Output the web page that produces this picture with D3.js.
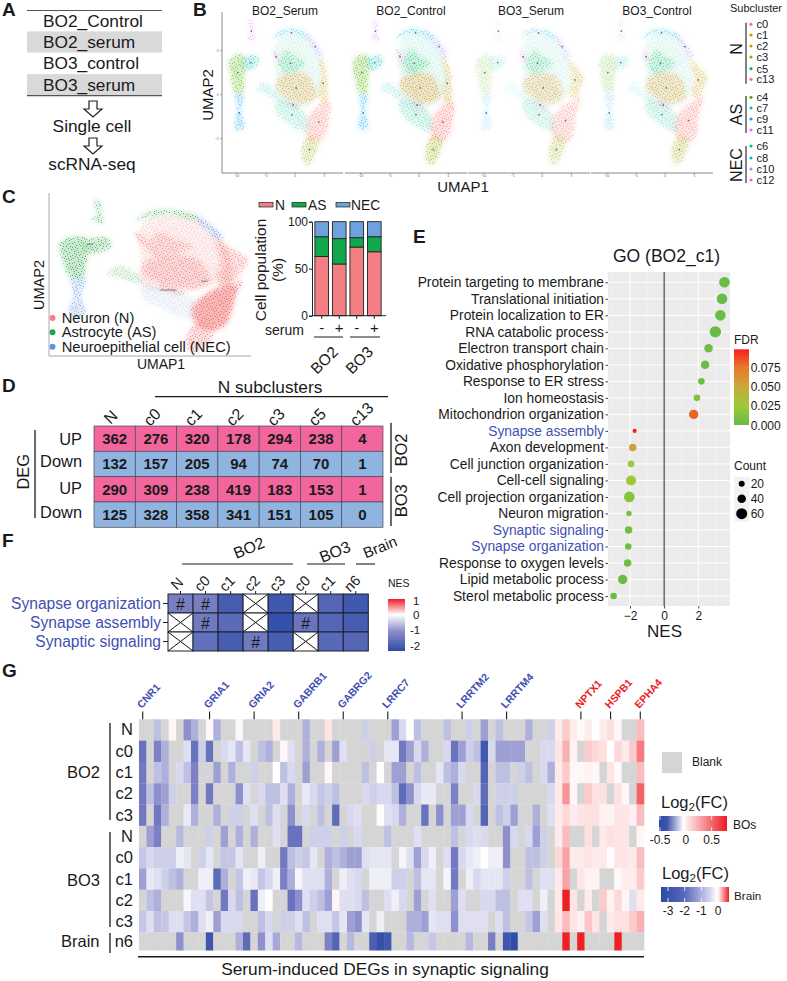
<!DOCTYPE html>
<html><head><meta charset="utf-8">
<script src="https://cdn.jsdelivr.net/npm/d3@7"></script>
<style>html,body{margin:0;padding:0;background:#fff}svg{display:block}text{font-family:"Liberation Sans",Arial,sans-serif;fill:#1a1a1a}</style>
</head><body><svg id="c" width="787" height="981"></svg>
<script>
const _ = null;
/* ---------- A ---------- */
const sampleNames = ["BO2_Control","BO2_serum","BO3_control","BO3_serum"];
const flowSteps = ["Single cell","scRNA-seq"];
/* ---------- B / C : UMAP cluster outlines, in UMAP units ---------- */
const polyInterior=[[-3.5,4.6],[-2.7,6.3],[-.1,6.9],[2.4,6.3],[4.4,3.8],[4.1,-.3],[1.3,-1.4],[-3.2,-.7],[-3.2,2]];
const polyC4=[[-11.2,3.7],[-10.3,4.4],[-8.6,4.4],[-8.4,3.1],[-8.6,1.6],[-8.9,.1],[-10.1,.1],[-10.9,2]];
const polyC7=[[-8.6,4],[-6.6,4.4],[-6.1,3.5],[-7.8,2.7],[-8.6,2.9]];
const polyBridge=[[-6.6,.45],[-5.2,1.4],[-3,-.3],[-3.8,-.5],[-5.2,.1]];
const polyC9=[[-10.1,-.1],[-8.6,-.1],[-9.1,-1.8],[-8.6,-3.9],[-10.1,-4.1],[-10.3,-3.3],[-9.8,-1.8]];
const polyC8=[[-3.8,6.3],[-2.4,7.2],[-.1,7.4],[2.4,6.7],[1.9,6.4],[-.1,7],[-2.1,6.8]];
const polyC10=[[2.4,6.7],[3.9,5.5],[4.9,4.2],[4.1,4.2],[3.3,5.2],[2,6.4]];
const polyC2=[[4.1,4.2],[5,3.5],[5.7,.45],[5.3,-1.2],[4.1,-.3],[4.5,2]];
const polyC2b=[[4.4,4],[5.6,3.3],[7.3,1.95],[6.7,.8],[5.6,-.5],[4.6,-.1],[5,1.8]];
const polyC1=[[-3,1.6],[-1.25,2.3],[2.2,2.15],[3.6,-.3],[1.6,-1.1],[-.7,-.7],[-3,.45]];
const polyC5=[[-2.7,3.5],[-1.25,5],[.2,4.2],[1.9,3.5],[-.1,2.5],[-1.8,2.3]];
const polyC6=[[-3.2,-.7],[-.1,-1.05],[2.15,-2.6],[1.9,-4.3],[-1.25,-3.3],[-3,-2.2]];
const polyC0=[[2.15,-3.1],[4.4,-1.05],[6,-.9],[5.9,-2.6],[4.7,-5.2],[2.4,-5.2]];
const polyC0b=[[1.6,-3.3],[3.2,-1.6],[5,-.8],[6.7,-.3],[5.85,-2.2],[5,-5.2],[2.4,-5.2]];
const polyC3=[[1.3,-6],[2.4,-4.8],[4,-5.2],[3.6,-6.7],[2.15,-8.1],[1.3,-7.5]];
const polyC12=[[-3.9,5],[-3.1,4.6],[-2.5,3.4],[-3.2,3.85]];
const polyC13=[[-1.25,-.7],[1,-1.6],[.75,-1.8],[-1.5,-.9]];
const polyC11=[[-7.8,8.4],[-7.2,8.4],[-7.1,6.9],[-6.8,6],[-8.1,6.4],[-7.5,6.9]];
const clusterIds=["c5i","c6","c1","c5","c2","c0","c3","c4","c7","br","c9","c8","c10","c12","c13","c11"];
const clusterCol={c0:"#F8766D",c1:"#E38900",c2:"#C49A00",c3:"#99A800",c4:"#53B400",c5:"#00BC56",c5i:"#00C094",c6:"#00C094",c7:"#00BFC4",br:"#00BFC4",c8:"#00B6EB",c9:"#06A4FF",c10:"#A58AFF",c11:"#DF70F8",c12:"#FB61D7",c13:"#FF66A8"};
const clusterDensity=[.3,.6,.9,.75,.85,1,.95,1,.9,.45,.85,1,.9,1,.8,.8];
const panelTitles=["BO2_Serum","BO2_Control","BO3_Serum","BO3_Control"];
const panelOffsets=[0,124,247,370];
const panelAstro=[1,1,.4,.5];
const panelNeuron=[.85,1,.75,.85];
const umapXTicks=[-10,-5,0,5], umapYTicks=[5,0,-5];
/* fixed speckle positions inside one 20 x 20 tile */
const speckleX=[1,5,9,14,18,3,7,12,16,0,6,10,15,19,2,8,13,17,4,11,1,6,14,18,3,9,16,0,7,12,19,5,10,15,2,17,8,13,4,11,18,6,1,14,9,3,16,12];
const speckleY=[0,1,0,2,1,3,4,3,5,5,6,6,7,4,8,8,9,8,10,9,11,11,11,12,13,12,14,14,14,15,15,16,16,16,17,17,18,18,18,19,19,19,2,13,3,6,10,7];
/* legends of B */
const legN=["c0","c1","c2","c3","c5","c13"], legAS=["c4","c7","c9","c11"], legNEC=["c6","c8","c10","c12"];
const legCols={c0:"#F8766D",c1:"#E38900",c2:"#C49A00",c3:"#99A800",c4:"#53B400",c5:"#00BC56",c6:"#00C094",c7:"#00BFC4",c8:"#00B6EB",c9:"#06A4FF",c10:"#A58AFF",c11:"#DF70F8",c12:"#FB61D7",c13:"#FF66A8"};
/* ---------- C bars ---------- */
const barGroups=["BO2-","BO2+","BO3-","BO3+"];
const barN=[63,55,73,68], barAS=[21,27,10,16], barNEC=[16,18,17,16];
/* ---------- D ---------- */
const degCols=["N","c0","c1","c2","c3","c5","c13"];
const deg1=[362,276,320,178,294,238,4], deg2=[132,157,205,94,74,70,1], deg3=[290,309,238,419,183,153,1], deg4=[125,328,358,341,151,105,0];
const degLabels=["UP","Down","UP","Down"];
/* ---------- F ---------- */
const nesCols=["N","c0","c1","c2","c3","c0","c1","n6"];
const nesTerms=["Synapse organization","Synapse assembly","Synaptic signaling"];
const nesOrg=[-1.3,-1.3,-2,_,-2.1,_,-1.8,-2.1];
const nesAsm=[_,-1.4,-1.7,_,-2.25,-1.5,-1.8,-2];
const nesSig=[_,-1.6,-2,-1.4,-2,_,-1.75,-1.8];
const hashOrg=[1,1,0,0,0,0,0,0], hashAsm=[0,1,0,0,0,1,0,0], hashSig=[0,0,0,1,0,0,0,0];
/* ---------- E ---------- */
const goTerms=["Protein targeting to membrane","Translational initiation","Protein localization to ER","RNA catabolic process","Electron transport chain","Oxidative phosphorylation","Response to ER stress","Ion homeostasis","Mitochondrion organization","Synapse assembly","Axon development","Cell junction organization","Cell-cell signaling","Cell projection organization","Neuron migration","Synaptic signaling","Synapse organization","Response to oxygen levels","Lipid metabolic process","Sterol metabolic process"];
const goNES=[3.53,3.39,3.29,3.0,2.6,2.4,2.18,1.92,1.73,-1.73,-1.84,-1.94,-1.94,-2.04,-2.06,-2.08,-2.1,-2.14,-2.43,-2.96];
const goCount=[57,57,57,63,40,40,25,25,47,5,32,25,52,57,15,32,25,32,47,25];
const goFDR=[.002,.002,.002,.002,.003,.003,.005,.012,.08,.098,.052,.026,.024,.015,.008,.005,.005,.004,.002,.002];
const goBlue=["Synapse assembly","Synaptic signaling","Synapse organization"];
/* ---------- G ---------- */
const heatRowNames=["N","c0","c1","c2","c3","N ","c0 ","c1 ","c2 ","c3 ","n6"];
const geneNames=["CNR1","GRIA1","GRIA2","GABRB1","GABRG2","LRRC7","LRRTM2","LRRTM4","NPTX1","HSPB1","EPHA4"];
const geneCols=[0,9,15,21,27,33,43,49,59,63,67];
const geneRed=[0,0,0,0,0,0,0,0,1,1,1];
const hBO2N=[_,_,-.2,_,.03,_,-.35,-.25,_,.03, -.25,_,_,.03,_,_,_,_,.08,_, _,_,-.25,_,_,.1,_,_,_,_, -.15,_,_,_,-.3,-.12,0,-.2,_,_, _,-.2,_,_,-.15,_,-.3,_,-.2,_, _,_,-.25,_,_,-.15,.08,.2,.08,.02, .07,0,.07,.12,.03,_,_,.25];
const hBO2c0=[-.5,_,-.4,-.25,_,_,-.1,-.5,-.15,-.5, _,-.12,-.08,-.2,-.08,_,-.2,-.25,_,.03, -.1,_,-.25,_,-.25,_,-.3,-.1,_,_, _,-.15,_,-.08,-.08,-.45,-.3,-.12,-.25,_, _,-.12,-.5,-.3,-.15,-.2,-.7,-.12,-.3,-.3, -.3,-.3,_,_,-.12,-.12,.1,.3,.05,_, .2,.15,.12,0,.15,.08,.2,.5];
const hBO2c1=[-.45,_,-.2,-.25,_,-.12,-.2,-.4,_,_, -.3,_,-.25,_,_,-.15,_,_,0,-.2, -.12,_,-.3,_,_,.03,_,_,_,_, -.2,_,0,_,-.3,-.3,_,-.2,_,_, -.08,-.2,-.25,-.12,_,_,-.6,_,-.2,-.2, _,-.15,-.2,_,-.12,-.25,.08,.2,.03,.03, .05,.03,_,.1,.02,_,_,.25];
const hBO2c2=[-.45,-.2,-.35,-.3,-.15,_,_,-.4,_,-.45, _,_,_,-.35,-.1,_,-.12,-.2,-.2,-.1, -.25,_,-.07,-.12,-.18,-.15,-.2,_,_,_, -.12,-.15,-.12,-.12,-.2,-.55,-.35,-.12,-.07,-.07, _,_,-.4,_,_,-.12,-.55,_,-.15,-.15, -.15,_,_,_,_,-.12,.08,.4,.03,_, .2,.12,.12,_,.12,.03,_,.6];
const hBO2c3=[-.45,_,-.45,-.25,_,_,-.07,-.25,_,_, -.25,_,-.15,-.15,_,-.1,_,-.2,-.1,_, -.35,_,-.12,_,-.2,_,-.55,_,-.12,-.1, _,_,.01,-.1,-.12,-.25,_,_,-.5,_, -.35,_,-.3,-.3,-.12,_,-.6,_,-.2,-.15, -.3,_,_,-.25,_,-.1,.08,.15,.08,.1, .12,.12,.05,.05,.1,.1,.06,.25];
const hBO3N=[_,-.3,-.4,_,_,-.22,_,_,_,-.15, _,-.3,_,-.25,_,-.25,_,_,-.1,_, -.5,-.5,_,-.15,-.15,-.15,_,-.15,_,-.12, _,_,_,-.2,_,_,_,-.1,_,_, _,_,-.2,_,-.12,-.1,-.12,_,_,-.35, -.12,_,-.12,-.3,-.15,_,.08,.25,_,_, .12,_,.08,.12,.1,.1,_,.03];
const hBO3c0=[-.18,-.12,-.15,-.15,-.15,-.05,-.08,_,-.15,-.08, _,-.18,-.18,-.08,_,_,-.05,_,_,-.45, -.2,-.15,-.18,-.08,_,-.25,-.2,-.25,-.3,-.3, -.1,-.08,-.08,-.08,_,-.03,-.1,-.3,-.12,-.05, _,-.1,-.45,-.12,-.07,-.05,0,-.05,-.05,-.35, _,_,-.2,-.2,-.15,_,.15,.35,.08,.08, .1,.08,.08,.01,.1,.1,.08,.25];
const hBO3c1=[-.3,-.07,-.1,-.15,-.2,-.25,_,_,-.05,-.05, -.55,-.25,_,-.18,-.05,-.07,-.18,-.12,-.05,-.4, -.25,-.03,-.1,-.1,-.1,-.25,_,-.05,-.1,-.12, _,-.05,-.05,-.05,-.15,-.15,_,-.2,-.08,-.08, _,-.03,-.45,_,-.05,-.12,-.08,-.08,-.08,-.15, _,_,-.2,_,-.1,-.1,.08,.35,_,.1, .05,.05,_,_,.03,.07,.07,.2];
const hBO3c2=[_,-.2,-.25,_,_,_,-.03,-.1,-.1,-.18, _,-.45,-.12,-.2,_,-.5,-.05,0,_,_, -.5,-.35,-.1,-.15,-.2,-.3,.04,-.1,-.1,-.12, -.2,_,_,-.1,-.05,-.12,_,-.3,_,-.1, _,_,-.3,-.1,_,_,-.12,-.12,-.2,-.2, _,-.1,-.1,_,-.05,_,.08,.85,.1,_, .08,_,.2,.05,.15,.04,-.1,.08];
const hBO3c3=[-.18,-.1,-.2,-.18,-.1,-.1,-.18,-.25,-.1,-.05, -.3,-.12,-.12,-.12,_,_,-.2,-.12,_,-.15, -.15,-.1,-.2,_,-.1,-.1,-.18,-.08,-.3,-.35, -.08,_,-.05,_,_,_,-.25,-.25,-.3,-.08, -.1,-.1,-.35,-.1,-.1,-.1,-.1,_,-.1,-.2, _,_,-.18,-.3,-.1,_,.1,.25,.1,.05, .22,.1,_,.08,.12,.12,.2,.3];
const hBrain=[_,_,_,_,_,-1.4,_,_,_,-3, _,_,_,-1,-2.3,_,-1.4,-.4,-1.1,_, _,-.9,_,_,_,-1.6,-2.5,_,-.9,_, _,-2.7,-3.2,-2.9,_,_,-.9,_,_,-.7, _,_,_,_,-.9,_,_,-1.7,_,-3, -3.3,_,_,_,_,_,_,.5,_,.5, _,_,_,_,.5,_,_,_];
const legendBOTicks=[-.5,0,.5], legendBrainTicks=[-3,-2,-1,0];

/* ---------- helpers ---------- */
const svg=d3.select("#c"), defs=svg.append("defs");
const BLUE="#3f50b2", RED="#ee1c25";
function T(x,y,s,size,o={}){
  const e=svg.append("text").attr("x",o.rot==null?x:0).attr("y",o.rot==null?y:0).text(s).attr("font-size",size)
   .attr("text-anchor",o.a||"start").attr("font-weight",o.w||null);
  if(o.rot!=null) e.attr("transform",`translate(${x},${y}) rotate(${o.rot})`);
  if(o.c) e.style("fill",o.c);
  return e;
}
function L(x1,y1,x2,y2,w=1.2,c="#1a1a1a"){svg.append("line").attr("x1",x1).attr("y1",y1).attr("x2",x2).attr("y2",y2).attr("stroke",c).attr("stroke-width",w);}
[["A",2,16],["B",193,16],["C",2,203],["D",2,392],["E",413,243],["F",2,547],["G",2,677]].forEach(d=>T(d[1],d[2],d[0],19,{w:"bold"}));

/* ---------- A ---------- */
const aY=d3.scaleBand().domain(sampleNames).range([10,95.5]);
svg.append("g").selectAll("rect").data(sampleNames).join("rect").attr("x",27).attr("width",135).attr("y",d=>aY(d)).attr("height",aY.bandwidth()).attr("fill",(d,i)=>i%2?"#d9d9d9":"#fff");
sampleNames.forEach(n=>T(43,aY(n)+16.5,n,17.3));
L(27,10.5,162,10.5,1.2,"#555");L(27,95.6,162,95.6,1.2,"#555");
const arrow="M-4 0H4V8H9L0 16L-9 8H-4Z";
[101,138].forEach(y=>svg.append("path").attr("d",arrow).attr("transform",`translate(93,${y})`).attr("fill","#fff").attr("stroke","#222").attr("stroke-width",1.2));
T(92,132,flowSteps[0],17.3,{a:"middle"});T(92,170,flowSteps[1],17.3,{a:"middle"});

/* ---------- UMAP drawing ---------- */
const blur=defs.append("filter").attr("id","soft").attr("x","-30%").attr("y","-30%").attr("width","160%").attr("height","160%");
blur.append("feGaussianBlur").attr("stdDeviation",2.4);
const madePat=new Set();
function pat(col){
  const id="p"+col.slice(1);
  if(!madePat.has(id)){
    madePat.add(id);
    const p=defs.append("pattern").attr("id",id).attr("width",20).attr("height",20).attr("patternUnits","userSpaceOnUse");
    speckleX.forEach((x,i)=>p.append("rect").attr("x",x).attr("y",speckleY[i]).attr("width",1).attr("height",1).attr("fill",col));
  }
  return `url(#${id})`;
}
function polyFor(id,alt){return ({c5i:polyInterior,c6:polyC6,c1:polyC1,c5:polyC5,c2:alt?polyC2b:polyC2,c0:alt?polyC0b:polyC0,c3:polyC3,c4:polyC4,c7:polyC7,br:polyBridge,c9:polyC9,c8:polyC8,c10:polyC10,c12:polyC12,c13:polyC13,c11:polyC11})[id];}
const astroSet=new Set(["c4","c7","br","c9","c11"]);
function drawUmap(x,y,colorOf,alphaOf,alt,baseK,dotK){
  const g=svg.append("g");
  const line=d3.line().x(d=>x(d[0])).y(d=>y(d[1])).curve(d3.curveCatmullRomClosed.alpha(.5));
  clusterIds.forEach((id,i)=>{
    const col=colorOf(id),a=alphaOf(id)*clusterDensity[i],d=line(polyFor(id,alt));
    if(a<=0) return;
    g.append("path").attr("d",d).attr("fill",col).attr("opacity",a*baseK).attr("filter","url(#soft)");
    g.append("path").attr("d",d).attr("fill",pat(col)).attr("opacity",a*dotK);
  });
  return g;
}
/* ---------- B ---------- */
panelTitles.forEach((t,i)=>{
  const off=panelOffsets[i];
  const x=d3.scaleLinear().domain([-10,5]).range([236+off,324+off]);
  const y=d3.scaleLinear().domain([-5,5]).range([138,50]);
  const g=drawUmap(x,y,id=>clusterCol[id],id=>astroSet.has(id)?panelAstro[i]:panelNeuron[i],i>=2,.22,.6);
  clusterIds.filter(id=>id!=="br"&&id!=="c5i").forEach(id=>{
    const c=d3.polygonCentroid(polyFor(id,i>=2));
    g.append("circle").attr("cx",x(c[0])).attr("cy",y(c[1])).attr("r",.9).attr("fill","#777");
  });
  const axG=svg.append("g").attr("transform","translate(0,173)")
    .call(d3.axisBottom(x).tickValues(umapXTicks).tickSize(1).tickPadding(1));
  axG.select(".domain").remove();
  axG.selectAll("line").attr("stroke","#777");
  axG.selectAll("text").attr("font-size",3.2).style("fill","#555").attr("font-family","Liberation Sans");
  const ends=[[222,343],[345,467],[468,590],[591,713]][i];
  L(ends[0],173,ends[1],173,1,"#8a8a8a");
  T(i==0?285:i==1?411:i==2?531:657,15,t,12,{a:"middle"});
  if(i==0){
    const ay=svg.append("g").attr("transform","translate(222,0)").call(d3.axisLeft(y).tickValues(umapYTicks).tickSize(1.5).tickPadding(2));
    ay.select(".domain").remove();ay.selectAll("line").attr("stroke","#777");
    ay.selectAll("text").attr("font-size",3.2).style("fill","#555").attr("font-family","Liberation Sans");
    L(222,12,222,173,1,"#8a8a8a");
  }
});
T(213,95,"UMAP2",15,{a:"middle",rot:-90});
T(463,192,"UMAP1",15,{a:"middle"});
T(756,12,"Subcluster",11,{a:"middle"});
const legY={c0:24.3,c1:35,c2:46,c3:57,c5:68.7,c13:79.3,c4:97.3,c7:108,c9:119,c11:130,c6:146,c8:158,c10:169,c12:180};
[...legN,...legAS,...legNEC].forEach(k=>{
  svg.append("circle").attr("cx",751).attr("cy",legY[k]).attr("r",1.6).attr("fill",legCols[k]);
  T(756.5,legY[k]+4,k,11.2);
});
L(746,22.7,746,83.7,1.1);L(746,96,746,133,1.1);L(746,146,746,183,1.1);
T(742,49,"N",16,{a:"middle",rot:-90});T(742,114.5,"AS",16,{a:"middle",rot:-90});T(742,165,"NEC",16,{a:"middle",rot:-90});

/* ---------- C umap ---------- */
const cGroup={c5i:"#f28c8c",c6:"#8db0e4",c1:"#f27f7f",c5:"#f27f7f",c2:"#f27f7f",c0:"#f26c6c",c3:"#f27f7f",c4:"#36a94f",c7:"#36a94f",br:"#36a94f",c9:"#6f9ade",c8:"#36a94f",c10:"#5f8fdc",c12:"#f27f7f",c13:"#f27f7f",c11:"#36a94f"};
{
  const x=d3.scaleLinear().domain([-10,5]).range([71.7,225]);
  const y=d3.scaleLinear().domain([-5,5]).range([324.6,232.2]);
  drawUmap(x,y,id=>cGroup[id],id=>id==="c5i"?1.6:id==="c6"?.6:1,true,.26,.8);
  drawUmap(x,y,id=>cGroup[id],id=>["c2","c0"].includes(id)?1:0,false,.3,.8);
  [[-8.5,-7.9,3.7],[-1.4,.2,-1.26],[2.7,3.3,-.3]].forEach(m=>L(x(m[0]),y(m[2]),x(m[1]),y(m[2]),.8,"#666"));
}
L(49,193,49,356,1,"#a8a8a8");L(49,356,251,356,1,"#a8a8a8");
T(44,285,"UMAP2",14.5,{a:"middle",rot:-90});
T(161,369,"UMAP1",14,{a:"middle"});
[["Neuron (N)","#f27f88",318],["Astrocyte (AS)","#1fa84f",332.3],["Neuroepithelial cell (NEC)","#5f93d8",346.7]].forEach(d=>{
  svg.append("circle").attr("cx",52.5).attr("cy",d[2]).attr("r",3).attr("fill",d[1]);
  T(61.7,d[2]+5,d[0],14.7);
});
/* ---------- C bars ---------- */
const bCols={N:"#f37f85",AS:"#10a84b",NEC:"#6ea2dc"};
const bX=d3.scaleBand().domain(barGroups).range([314,382]).paddingInner(.22).paddingOuter(.05);
const bY=d3.scaleLinear().domain([0,100]).range([315.7,221.7]);
const stackRows=barGroups.map((g,i)=>({g,N:barN[i],AS:barAS[i],NEC:barNEC[i]}));
d3.stack().keys(["N","AS","NEC"])(stackRows).forEach(s=>{
  svg.append("g").selectAll("rect").data(s).join("rect").attr("x",d=>bX(d.data.g)).attr("width",bX.bandwidth())
   .attr("y",d=>bY(d[1])).attr("height",d=>bY(d[0])-bY(d[1])).attr("fill",bCols[s.key]).attr("stroke","#222").attr("stroke-width",.9);
});
const byAx=svg.append("g").attr("transform","translate(312,0)").call(d3.axisLeft(bY).tickValues([0,50,100]).tickSize(3).tickPadding(1));
byAx.selectAll("text").attr("font-size",12).attr("font-family","Liberation Sans");
byAx.selectAll("line,path").attr("stroke","#222");
L(312,315.7,386,315.7,1,"#222");
barGroups.forEach((g,i)=>{const cx=bX(g)+bX.bandwidth()/2;L(cx,315.7,cx,319,1,"#222");T(cx,333,i%2?"+":"-",15,{a:"middle"});});
T(265,335,"serum",14);
L(314,337,343,337,1);L(350,337,380,337,1);
T(328,364,"BO2",15.5,{a:"middle",rot:-45});T(363,364,"BO3",15.5,{a:"middle",rot:-45});
T(266,270,"Cell population",15.5,{a:"middle",rot:-90});T(283,270,"(%)",15.5,{a:"middle",rot:-90});
[["N",259,275],["AS",292,308],["NEC",336,351]].forEach(d=>{
  svg.append("rect").attr("x",d[1]).attr("y",202.5).attr("width",14).attr("height",4.5).attr("fill",bCols[d[0]]).attr("stroke","#222").attr("stroke-width",.7);
  T(d[2],209.5,d[0],13.8);
});

/* ---------- D ---------- */
const dX=d3.scaleBand().domain(degCols).range([94,383]);
const dY=d3.scaleBand().domain([0,1,2,3]).range([426,527.3]);
[deg1,deg2,deg3,deg4].forEach((row,r)=>{
  const g=svg.append("g");
  g.selectAll("rect").data(row).join("rect").attr("x",(d,i)=>dX(degCols[i])).attr("y",dY(r)).attr("width",dX.bandwidth()).attr("height",dY.bandwidth())
   .attr("fill",r%2?"#8eb4df":"#f2659d").attr("stroke","#4a4a5a").attr("stroke-width",.7);
  g.selectAll("text").data(row).join("text").attr("x",(d,i)=>dX(degCols[i])+dX.bandwidth()/2).attr("y",dY(r)+dY.bandwidth()/2+5.3).attr("text-anchor","middle").attr("font-size",15).attr("font-weight","bold").text(d=>d);
});
degCols.forEach((c,i)=>T(dX(c)+dX.bandwidth()/2+(i==6?3:0),i==6?418:421,c,16,{a:"middle",rot:-45}));
T(270,392.7,"N subclusters",17.3,{a:"middle"});L(155,396.7,388,396.7,1.3);
L(35,430,35,518,1.3);T(29,471.7,"DEG",16.5,{a:"middle",rot:-90});
[445,467,494,517.7].forEach((y,i)=>T(82,y,degLabels[i],16.4,{a:"end"}));
L(391,422.7,391,473,1.3);L(391,476.7,391,526,1.3);
T(407,450,"BO2",16.5,{a:"middle",rot:-90});T(407,500.7,"BO3",16.5,{a:"middle",rot:-90});

/* ---------- F ---------- */
const nesColor=d3.scaleLinear().domain([-2.35,-1,0,1.13]).range(["#2f4ca8","#8c8dcb","#ffffff","#ee1c25"]);
const fX=d3.scaleBand().domain(d3.range(8)).range([168,368.3]);
const fY=d3.scaleBand().domain(nesTerms).range([594,651]);
[nesOrg,nesAsm,nesSig].forEach((row,r)=>{
  const y0=fY(nesTerms[r]),h=fY.bandwidth(),w=fX.bandwidth(),hash=[hashOrg,hashAsm,hashSig][r];
  row.forEach((v,i)=>{
    const x0=fX(i);
    svg.append("rect").attr("x",x0).attr("y",y0).attr("width",w).attr("height",h).attr("fill",v==null?"#fff":nesColor(v)).attr("stroke","#1f2030").attr("stroke-width",1);
    if(v==null){L(x0,y0,x0+w,y0+h,1,"#111");L(x0+w,y0,x0,y0+h,1,"#111");}
    if(hash[i]) T(x0+w/2,y0+h/2+6,"#",16,{a:"middle"});
  });
  T(161,y0+h/2+5,nesTerms[r],15.6,{a:"end",c:BLUE});
  L(163,y0+h/2,168,y0+h/2,1);
});
nesCols.forEach((c,i)=>{const cx=fX(i)+fX.bandwidth()/2;L(cx,591,cx,594,1);T(cx,587,c,14.5,{a:"middle",rot:-45});});
T(251,553,"BO2",16,{a:"middle",rot:-22});T(337,557,"BO3",16,{a:"middle",rot:-22});T(382,552,"Brain",15,{a:"middle",rot:-22});
L(182,564,293,564,1.1);L(307,564,345,564,1.1);L(356,564,375,564,1.1);
T(388,586.7,"NES",10.5);
const nesLegY=d3.scaleLinear().domain([1,0,-1,-2]).range([601,615,630,646]);
const gradNes=defs.append("linearGradient").attr("id","gNes").attr("x1",0).attr("x2",0).attr("y1",0).attr("y2",1);
[[0,"#ee1c25"],[.3,"#ffffff"],[.62,"#8c8dcb"],[1,"#2f4ca8"]].forEach(s=>gradNes.append("stop").attr("offset",s[0]).attr("stop-color",s[1]));
svg.append("rect").attr("x",388).attr("y",599).attr("width",17).attr("height",52).attr("fill","url(#gNes)");
[1,0,-1,-2].forEach(v=>T(v<0?410:413,nesLegY(v)+4,v,11.5));

/* ---------- E ---------- */
const eX=d3.scaleLinear().domain([-2,2]).range([630,698.3]);
const eY=d3.scalePoint().domain(goTerms).range([282.3,596]);
const eR=d3.scaleLinear().domain([20,60]).range([3,5.5]);
const fdrCol=d3.scaleLinear().domain([0,.025,.05,.075,.0985]).range(["#66bb46","#9ec93a","#c9a83a","#e8782a","#f81e1e"]);
svg.append("rect").attr("x",608).attr("y",272).attr("width",122).attr("height",334).attr("fill","#ebebeb");
[-3,-1,1,3].forEach(v=>L(eX(v),272,eX(v),606,.5,"#f6f6f6"));
[-2,2].forEach(v=>L(eX(v),272,eX(v),606,1,"#fff"));
goTerms.forEach(t=>L(608,eY(t),730,eY(t),1,"#fff"));
L(eX(0),272,eX(0),606,1.1,"#3a3a3a");
svg.append("g").selectAll("circle").data(goTerms).join("circle").attr("cx",(d,i)=>eX(goNES[i])).attr("cy",d=>eY(d)).attr("r",(d,i)=>eR(goCount[i])).attr("fill",(d,i)=>fdrCol(goFDR[i]));
const eAxL=svg.append("g").attr("transform","translate(608,0)").call(d3.axisLeft(eY).tickSize(2.5).tickPadding(1.5));
eAxL.select(".domain").remove();eAxL.selectAll("line").attr("stroke","#444");
eAxL.selectAll("text").attr("font-size",13.8).attr("font-family","Liberation Sans").style("fill",d=>goBlue.includes(d)?BLUE:"#1a1a1a");
const eAxB=svg.append("g").attr("transform","translate(0,606)").call(d3.axisBottom(eX).tickValues([-2,0,2]).tickSize(2.5).tickPadding(3).tickFormat(d3.format("d")));
eAxB.select(".domain").remove();eAxB.selectAll("line").attr("stroke","#444");
eAxB.selectAll("text").attr("font-size",12).attr("font-family","Liberation Sans");
T(613,262,"GO (BO2_c1)",17.5);
T(664.5,637,"NES",17,{a:"middle"});
T(734,344,"FDR",12);
const fdrY=d3.scaleLinear().domain([0,.075]).range([425,367.3]);
const gF=defs.append("linearGradient").attr("id","gF").attr("x1",0).attr("x2",0).attr("y1",1).attr("y2",0);
[0,.025,.05,.075,.0985].forEach(v=>gF.append("stop").attr("offset",v/.0985).attr("stop-color",fdrCol(v)));
svg.append("rect").attr("x",734).attr("y",349.3).attr("width",15).attr("height",75.7).attr("fill","url(#gF)");
[0,.025,.05,.075].forEach(v=>T(750.7,fdrY(v)+4.5,v.toFixed(3),12));
T(734,470,"Count",12);
svg.append("rect").attr("x",734.3).attr("y",476.7).attr("width",15).attr("height",45).attr("fill","#f2f2f2");
[20,40,60].forEach((c,i)=>{
  svg.append("circle").attr("cx",741.7).attr("cy",483.7+i*15).attr("r",eR(c)).attr("fill","#000");
  T(750.7,488+i*15,c,12);
});

/* ---------- G ---------- */
const heatData=[hBO2N,hBO2c0,hBO2c1,hBO2c2,hBO2c3,hBO3N,hBO3c0,hBO3c1,hBO3c2,hBO3c3,hBrain];
const hX=d3.scaleBand().domain(d3.range(68)).range([139,644]);
const hY=d3.scaleBand().domain(heatRowNames).range([719.3,953.6]);
const boColor=d3.scaleLinear().domain([-.8,-.4,0,.85]).range(["#2c4aa6","#7d80c5","#ffffff","#ee2026"]);
const brainColor=d3.scaleLinear().domain([-3.4,-1.6,0,.1,.5]).range(["#2c4aa6","#7d80c5","#ffffff","#fbc8c8","#ee2026"]);
heatData.forEach((row,r)=>{
  const isBrain=r===10,h=isBrain?18:hY.bandwidth(),scale=isBrain?brainColor:boColor;
  svg.append("g").selectAll("rect").data(row).join("rect").attr("x",(d,i)=>hX(i)).attr("y",hY(heatRowNames[r])).attr("width",hX.bandwidth()+.3).attr("height",h+.2)
   .attr("fill",d=>d==null?"#d5d5d5":scale(d));
  T(133,hY(heatRowNames[r])+h/2+5.5,heatRowNames[r].trim(),16.5,{a:"end"});
});
geneNames.forEach((g,i)=>{
  const cx=hX(geneCols[i])+hX.bandwidth()/2;
  L(cx,711.5,cx,719.3,1.1,"#1a1a1a");
  T(cx-1,709,g,10.5,{rot:-48,w:"bold",c:geneRed[i]?RED:BLUE});
});
L(110,723,110,820,1.3);L(110,832,110,927,1.3);L(110,933,110,953,1.3);
T(67,778,"BO2",16.5);T(67,886,"BO3",16.5);T(61,947,"Brain",16.5);
L(138,956.7,644,956.7,1.6);
T(385,975,"Serum-induced DEGs in synaptic signaling",17.3,{a:"middle"});
/* legend */
svg.append("rect").attr("x",662).attr("y",752).attr("width",20).attr("height",21).attr("fill","#d5d5d5");
T(692,766,"Blank",12);
function log2Label(x,y){const e=T(x,y,"Log",16.5);e.append("tspan").attr("font-size",11.5).attr("dy",3).text("2");e.append("tspan").attr("dy",-3).text("(FC)");}
log2Label(661,808);log2Label(662,879);
const legBO=d3.scaleLinear().domain([-.5,.5]).range([660,711.7]);
const gB=defs.append("linearGradient").attr("id","gB");
[[0,"#2c4aa6"],[.12,"#3f55ad"],[.36,"#ffffff"],[.42,"#fde5e5"],[.98,"#ee2026"]].forEach(s=>gB.append("stop").attr("offset",s[0]).attr("stop-color",s[1]));
svg.append("rect").attr("x",659).attr("y",816).attr("width",68).attr("height",15).attr("fill","url(#gB)");
legendBOTicks.forEach(v=>{
  L(legBO(v),816,legBO(v),820,.8,"#fff");L(legBO(v),827,legBO(v),831,.8,"#fff");
  T(legBO(v),844,v,12,{a:"middle"});
});
T(733,829,"BOs",12);
const legBr=d3.scaleLinear().domain([-3,0]).range([668,718]);
const gBr=defs.append("linearGradient").attr("id","gBr");
[[0,"#2c4aa6"],[.35,"#5a68ba"],[.72,"#d5d5ee"],[.82,"#ffffff"],[.86,"#fde0e0"],[1,"#ee2026"]].forEach(s=>gBr.append("stop").attr("offset",s[0]).attr("stop-color",s[1]));
svg.append("rect").attr("x",661).attr("y",887).attr("width",68).attr("height",15).attr("fill","url(#gBr)");
legendBrainTicks.forEach(v=>{
  L(legBr(v),887,legBr(v),891,.8,"#fff");L(legBr(v),898,legBr(v),902,.8,"#fff");
  T(legBr(v),915,v,12,{a:"middle"});
});
T(734,900,"Brain",11.7);
</script></body></html>
